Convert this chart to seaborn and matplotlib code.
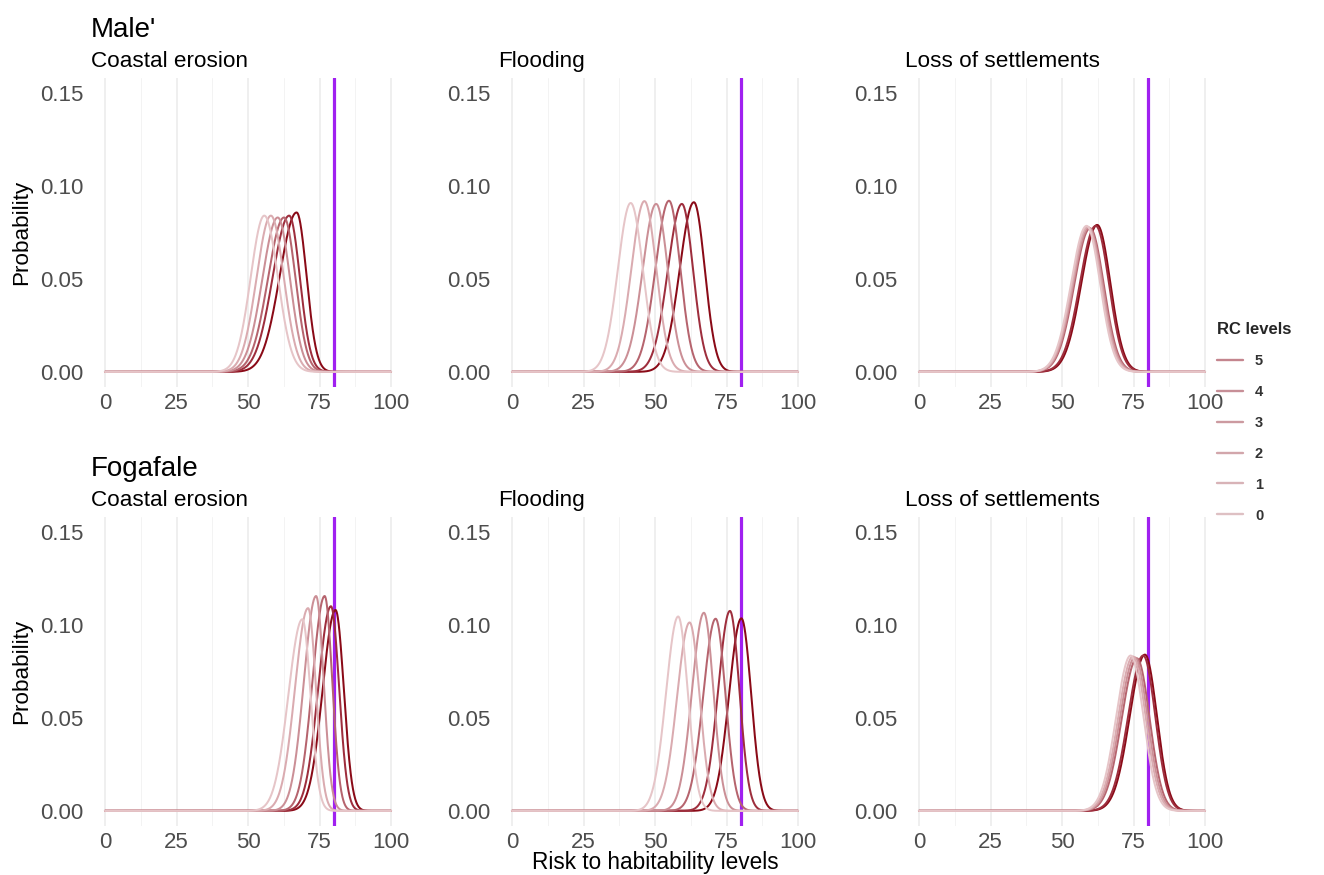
import numpy as np
import pandas as pd
import matplotlib
matplotlib.use("Agg")
import matplotlib.pyplot as plt
from matplotlib.lines import Line2D
from matplotlib.ticker import FormatStrFormatter
import seaborn as sns

# ---------------------------------------------------------------------------
# Data: one two-piece normal density per RC level (0..5) and hazard.
#   *_mode : risk level at the peak of the curve
#   *_peak : probability density at the peak
#   *_skew : ratio of left to right spread (tail asymmetry)
# ---------------------------------------------------------------------------
CITIES = ["Male'", "Fogafale"]
HAZARDS = ["Coastal erosion", "Flooding", "Loss of settlements"]
RC_LEVELS = [0, 1, 2, 3, 4, 5]
THRESHOLD = 80

male_erosion_mode = [55.7, 58.0, 60.4, 62.6, 64.4, 67.0]
male_erosion_peak = [0.084, 0.084, 0.083, 0.083, 0.084, 0.0857]
male_erosion_skew = [1.0, 1.1, 1.25, 1.4, 1.55, 1.7]

male_flood_mode = [41.5, 46.3, 50.4, 54.9, 59.4, 63.6]
male_flood_peak = [0.0908, 0.0918, 0.0903, 0.0920, 0.0903, 0.0912]
male_flood_skew = [1.05, 1.1, 1.15, 1.2, 1.25, 1.3]

male_settle_mode = [58.6, 59.0, 59.4, 59.8, 61.8, 62.3]
male_settle_peak = [0.0785, 0.0780, 0.0775, 0.0772, 0.0785, 0.0790]
male_settle_skew = [1.15, 1.15, 1.15, 1.15, 1.2, 1.2]

foga_erosion_mode = [69.0, 71.0, 73.8, 76.8, 79.0, 80.6]
foga_erosion_peak = [0.103, 0.109, 0.1155, 0.1155, 0.110, 0.108]
foga_erosion_skew = [1.7, 1.65, 1.6, 1.6, 1.55, 1.55]

foga_flood_mode = [58.1, 62.1, 67.1, 71.2, 76.2, 80.2]
foga_flood_peak = [0.1045, 0.1013, 0.1065, 0.1033, 0.1075, 0.1035]
foga_flood_skew = [1.25, 1.25, 1.25, 1.25, 1.25, 1.25]

foga_settle_mode = [74.0, 74.8, 75.5, 76.2, 78.4, 79.0]
foga_settle_peak = [0.0835, 0.0830, 0.0825, 0.0820, 0.0835, 0.0840]
foga_settle_skew = [1.13, 1.15, 1.18, 1.2, 1.25, 1.27]

PANELS = {
    ("Male'", "Coastal erosion"): (male_erosion_mode, male_erosion_peak, male_erosion_skew),
    ("Male'", "Flooding"): (male_flood_mode, male_flood_peak, male_flood_skew),
    ("Male'", "Loss of settlements"): (male_settle_mode, male_settle_peak, male_settle_skew),
    ("Fogafale", "Coastal erosion"): (foga_erosion_mode, foga_erosion_peak, foga_erosion_skew),
    ("Fogafale", "Flooding"): (foga_flood_mode, foga_flood_peak, foga_flood_skew),
    ("Fogafale", "Loss of settlements"): (foga_settle_mode, foga_settle_peak, foga_settle_skew),
}

LINE_COLORS = {0: "#E6C5C8", 1: "#DAABB0", 2: "#CB8F96", 3: "#B6646E",
               4: "#9E2E3D", 5: "#8A0A17"}
LEGEND_COLORS = {5: "#C4858E", 4: "#C78F97", 3: "#CC9AA0", 2: "#D2A6AB",
                 1: "#D8B3B7", 0: "#DEC0C3"}
VLINE_COLOR = "#A020F0"

x_grid = np.linspace(0, 100, 1001)


def two_piece_density(x, mode, peak, skew):
    """Two-piece normal density with a given mode, peak height and skew."""
    total = 2.0 / (peak * np.sqrt(2 * np.pi))
    s_right = total / (1.0 + skew)
    s_left = skew * s_right
    s = np.where(x < mode, s_left, s_right)
    return 2.0 / (np.sqrt(2 * np.pi) * (s_left + s_right)) * np.exp(-0.5 * ((x - mode) / s) ** 2)


rows = []
for (city, hazard), (modes, peaks, skews) in PANELS.items():
    for rc, m, p, k in zip(RC_LEVELS, modes, peaks, skews):
        d = two_piece_density(x_grid, m, p, k)
        rows.append(pd.DataFrame({"city": city, "hazard": hazard, "rc": rc,
                                  "risk": x_grid, "prob": d}))
df = pd.concat(rows, ignore_index=True)

# ---------------------------------------------------------------------------
# Figure
# ---------------------------------------------------------------------------
sns.set_theme(style="white")
plt.rcParams["font.family"] = ["Liberation Sans", "DejaVu Sans"]

W, H = 1324, 875
fig = plt.figure(figsize=(W / 100, H / 100), dpi=100)

panel_w = 314.6
lefts = [90.7, 497.7, 904.7]
row_tops = [78.0, 517.0]
sub_baselines = [66.7, 505.7]
title_baselines = [37.0, 475.5]
panel_h = 309.3


def fx(px):
    return px / W


def fy(py):
    return 1 - py / H


TICK_COLOR = "#4D4D4D"
for r, city in enumerate(CITIES):
    for c, hazard in enumerate(HAZARDS):
        ax = fig.add_axes([fx(lefts[c]), fy(row_tops[r] + panel_h),
                           fx(panel_w), panel_h / H])
        ax.set_facecolor("white")
        ax.axvline(THRESHOLD, color=VLINE_COLOR, lw=2.3, zorder=1.5)
        sub = df[(df.city == city) & (df.hazard == hazard)]
        sns.lineplot(data=sub, x="risk", y="prob", hue="rc",
                     hue_order=[5, 4, 3, 2, 1, 0], palette=LINE_COLORS,
                     estimator=None, sort=False, lw=1.45, legend=False, ax=ax,
                     zorder=2)
        ax.set_xlim(-5, 105)
        ax.set_ylim(-0.0083, 0.158)
        ax.set_xticks([0, 25, 50, 75, 100])
        ax.set_xticks([12.5, 37.5, 62.5, 87.5], minor=True)
        ax.set_yticks([0, 0.05, 0.10, 0.15])
        ax.yaxis.set_major_formatter(FormatStrFormatter("%.2f"))
        ax.grid(False)
        ax.grid(axis="x", which="major", color="#EBEBEB", lw=1.1, zorder=0)
        ax.grid(axis="x", which="minor", color="#F3F3F3", lw=0.7, zorder=0)
        ax.set_axisbelow(True)
        for s in ax.spines.values():
            s.set_visible(False)
        ax.tick_params(axis="both", which="both", length=0, labelsize=16,
                       labelcolor=TICK_COLOR)
        ax.tick_params(axis="y", pad=5.5)
        ax.tick_params(axis="x", pad=4.2)
        ax.set_xlabel("")
        if c == 0:
            ax.set_ylabel("Probability", fontsize=16.2, color="black")
            ax.yaxis.set_label_coords((31.7 - lefts[0]) / panel_w, 0.5)
        else:
            ax.set_ylabel("")
        # facet heading above each panel
        fig.text(fx(lefts[c]), fy(sub_baselines[r]), hazard, ha="left",
                 va="baseline", fontsize=16.2, color="black")

    fig.text(fx(90.7), fy(title_baselines[r]), city, ha="left",
             va="baseline", fontsize=20, color="black")

fig.text(fx(655), fy(869), "Risk to habitability levels", ha="center",
         va="baseline", fontsize=16.3, color="black")

handles = [Line2D([], [], color=LEGEND_COLORS[rc], lw=1.7) for rc in [5, 4, 3, 2, 1, 0]]
labels = [str(rc) for rc in [5, 4, 3, 2, 1, 0]]
leg = fig.legend(handles, labels, title="RC levels", loc="upper left",
                 bbox_to_anchor=(fx(1217), fy(322)), frameon=False,
                 prop={"size": 10.5, "weight": "bold"},
                 title_fontproperties={"size": 12, "weight": "bold"},
                 handlelength=1.75, handletextpad=0.85, labelspacing=1.16,
                 borderpad=0, borderaxespad=0, alignment="left")
for t in leg.get_texts():
    t.set_color("#333333")

fig.savefig("out.png", dpi=100, facecolor="white")
